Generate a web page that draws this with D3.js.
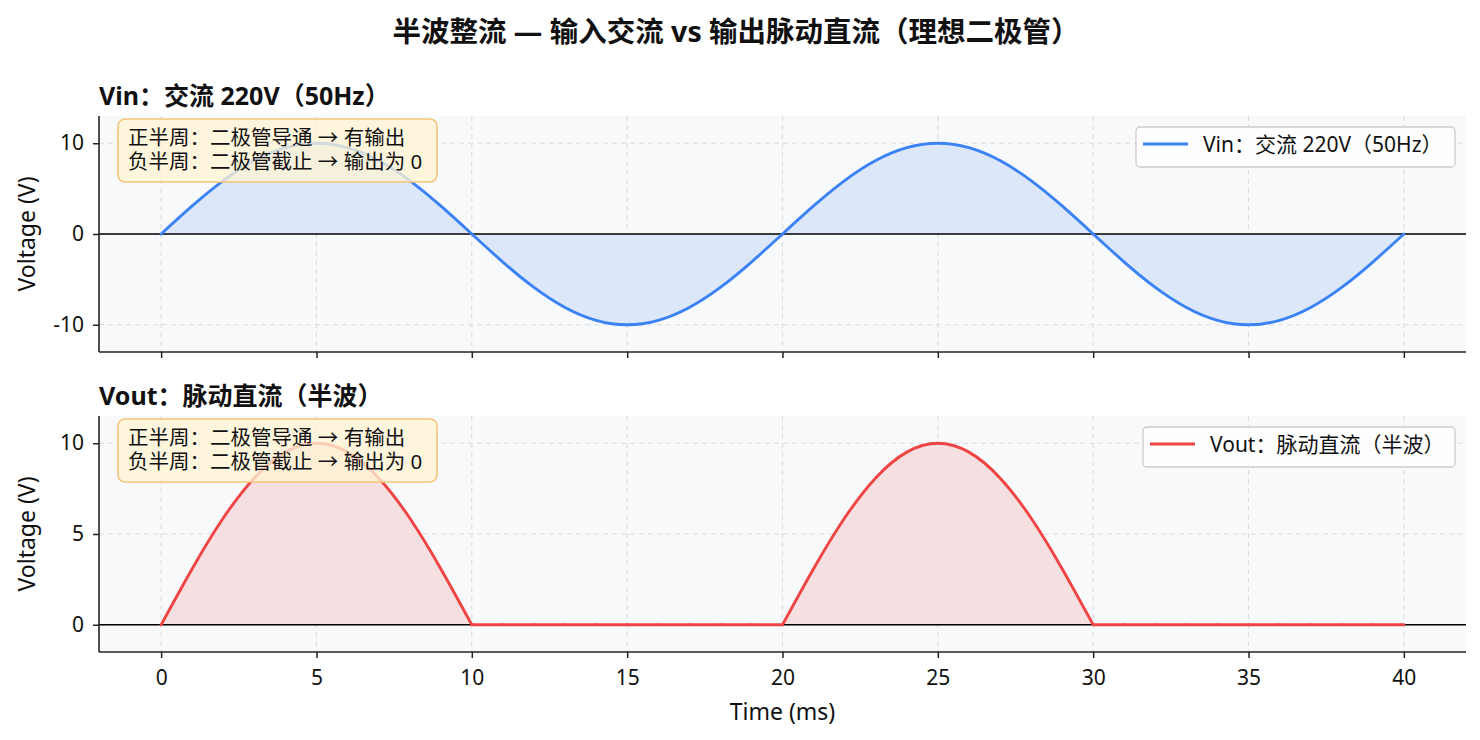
<!DOCTYPE html>
<html>
<head>
<meta charset="utf-8">
<script src="https://cdn.jsdelivr.net/npm/d3@7"></script>
<style>
  body { margin: 0; background: #fff; }
  text { font-family: "Noto Sans", "Noto Sans CJK SC", sans-serif; }
</style>
</head>
<body>
<div class="canvas"></div>
<script>
var width = 1480,
	height = 740;

// ---- data ----
var time_ms = [0, 1, 2, 3, 4, 5, 6, 7, 8, 9, 10, 11, 12, 13, 14, 15, 16, 17, 18, 19, 20,
	21, 22, 23, 24, 25, 26, 27, 28, 29, 30, 31, 32, 33, 34, 35, 36, 37, 38, 39, 40];
var vin = [0, 3.09, 5.88, 8.09, 9.51, 10, 9.51, 8.09, 5.88, 3.09, 0,
	-3.09, -5.88, -8.09, -9.51, -10, -9.51, -8.09, -5.88, -3.09, 0,
	3.09, 5.88, 8.09, 9.51, 10, 9.51, 8.09, 5.88, 3.09, 0,
	-3.09, -5.88, -8.09, -9.51, -10, -9.51, -8.09, -5.88, -3.09, 0];
var vout = [0, 3.09, 5.88, 8.09, 9.51, 10, 9.51, 8.09, 5.88, 3.09, 0,
	0, 0, 0, 0, 0, 0, 0, 0, 0, 0,
	3.09, 5.88, 8.09, 9.51, 10, 9.51, 8.09, 5.88, 3.09, 0,
	0, 0, 0, 0, 0, 0, 0, 0, 0, 0];
var x_ticks = [0, 5, 10, 15, 20, 25, 30, 35, 40];
var vin_ticks = [-10, 0, 10];
var vout_ticks = [0, 5, 10];

var main_title = "半波整流 — 输入交流 vs 输出脉动直流（理想二极管）";
var note_lines = ["正半周：二极管导通 → 有输出", "负半周：二极管截止 → 输出为 0"];

var panels = [
	{ title: "Vin：交流 220V（50Hz）", values: vin, ticks: vin_ticks, domain: [-13, 13],
		color: "#3b82f6", fill: "#dce8f9", top: 116, legendW: 319 },
	{ title: "Vout：脉动直流（半波）", values: vout, ticks: vout_ticks, domain: [-1.5, 11.5],
		color: "#ef4444", fill: "#f6dfe0", top: 416, legendW: 312 }
];

var svg = d3.select(".canvas")
	.append("svg")
	.attr("width", width)
	.attr("height", height);

var left = 99, right = 1466, ph = 236;

var scale_x = d3.scaleLinear()
	.domain([-2, 42])
	.range([left, right]);

svg.append("text")
	.attr("x", 736)
	.attr("y", 42)
	.attr("text-anchor", "middle")
	.attr("font-size", 28.5)
	.attr("font-weight", "bold")
	.attr("fill", "#111")
	.text(main_title);

// split a series into pieces at zero crossings so corners stay sharp
function pieces(values) {
	var out = [], cur = [];
	values.forEach(function(v, i) {
		cur.push([time_ms[i], v]);
		if (v === 0 && cur.length > 1) {
			out.push(cur);
			cur = [[time_ms[i], v]];
		}
	});
	if (cur.length > 1) out.push(cur);
	return out;
}

panels.forEach(function(p, k) {
	var g = svg.append("g");
	var scale_y = d3.scaleLinear()
		.domain(p.domain)
		.range([p.top + ph, p.top]);

	g.append("rect")
		.attr("x", left).attr("y", p.top)
		.attr("width", right - left).attr("height", ph)
		.attr("fill", "#f8f9fb");

	// grid
	g.selectAll(".gx").data(x_ticks).enter().append("line")
		.attr("x1", d => scale_x(d)).attr("x2", d => scale_x(d))
		.attr("y1", p.top).attr("y2", p.top + ph)
		.attr("stroke", "#dcdcdc").attr("stroke-dasharray", "5,4").attr("stroke-width", 1.1);
	g.selectAll(".gy").data(p.ticks).enter().append("line")
		.attr("x1", left).attr("x2", right)
		.attr("y1", d => scale_y(d)).attr("y2", d => scale_y(d))
		.attr("stroke", "#dcdcdc").attr("stroke-dasharray", "5,4").attr("stroke-width", 1.1);

	var line = d3.line()
		.x(d => scale_x(d[0])).y(d => scale_y(d[1]))
		.curve(d3.curveNatural);
	var area = d3.area()
		.x(d => scale_x(d[0])).y0(scale_y(0)).y1(d => scale_y(d[1]))
		.curve(d3.curveNatural);

	var segs = pieces(p.values);
	g.selectAll(".area").data(segs).enter().append("path")
		.attr("d", area).attr("fill", p.fill).attr("stroke", "none");

	// zero line
	g.append("line")
		.attr("x1", left).attr("x2", right)
		.attr("y1", scale_y(0)).attr("y2", scale_y(0))
		.attr("stroke", "#000").attr("stroke-width", 1.4);

	g.selectAll(".ln").data(segs).enter().append("path")
		.attr("d", line).attr("fill", "none")
		.attr("stroke", p.color).attr("stroke-width", 2.9)
		.attr("stroke-linejoin", "round").attr("stroke-linecap", "round");

	// axes
	var ax = g.append("g")
		.attr("transform", "translate(0," + (p.top + ph) + ")")
		.call(d3.axisBottom(scale_x).tickValues(x_ticks).tickSize(6).tickPadding(12)
			.tickFormat(k === 1 ? d3.format("d") : ""));
	var ay = g.append("g")
		.attr("transform", "translate(" + left + ",0)")
		.call(d3.axisLeft(scale_y).tickValues(p.ticks).tickSize(6).tickPadding(9)
			.tickFormat(d => d < 0 ? "-" + Math.abs(d) : d));
	[ax, ay].forEach(function(a) {
		a.select(".domain").attr("stroke", "#222").attr("stroke-width", 1.6);
		a.selectAll(".tick line").attr("stroke", "#222").attr("stroke-width", 1.5);
		a.selectAll("text").attr("font-size", 21).attr("fill", "#111")
			.attr("font-family", "'Noto Sans', 'Noto Sans CJK SC', sans-serif");
	});
	ax.select(".domain").attr("d", "M" + left + ",0H" + right);
	ay.select(".domain").attr("d", "M0," + p.top + "V" + (p.top + ph));

	// panel title
	g.append("text")
		.attr("x", left).attr("y", p.top - 11)
		.attr("font-size", 25).attr("font-weight", "bold").attr("fill", "#111")
		.text(p.title);

	// y label
	g.append("text")
		.attr("transform", "translate(35," + (p.top + ph / 2) + ") rotate(-90)")
		.attr("text-anchor", "middle")
		.attr("font-size", 23).attr("fill", "#111")
		.text("Voltage (V)");

	// note box
	var nb = g.append("g").attr("transform", "translate(118," + (p.top + 3) + ")");
	nb.append("rect")
		.attr("width", 319).attr("height", 63).attr("rx", 7)
		.attr("fill", "#fef3d4").attr("fill-opacity", 0.78)
		.attr("stroke", "#f3c57c").attr("stroke-width", 1.6);
	nb.selectAll("text").data(note_lines).enter().append("text")
		.attr("x", 10).attr("y", (d, i) => 26 + i * 24)
		.attr("font-size", 20.5).attr("fill", "#111")
		.text(d => d);

	// legend
	var lx = right - 11 - p.legendW;
	var lg = g.append("g").attr("transform", "translate(" + lx + "," + (p.top + 11) + ")");
	lg.append("rect")
		.attr("width", p.legendW).attr("height", 40).attr("rx", 4)
		.attr("fill", "#fff").attr("fill-opacity", 0.85)
		.attr("stroke", "#cccccc").attr("stroke-width", 1.3);
	lg.append("line")
		.attr("x1", 7).attr("x2", 52).attr("y1", 17).attr("y2", 17)
		.attr("stroke", p.color).attr("stroke-width", 3);
	lg.append("text")
		.attr("x", 67).attr("y", 25)
		.attr("font-size", 21).attr("fill", "#111")
		.text(p.title);
});

svg.append("text")
	.attr("x", (left + right) / 2)
	.attr("y", 720)
	.attr("text-anchor", "middle")
	.attr("font-size", 23).attr("fill", "#111")
	.text("Time (ms)");
</script>
</body>
</html>
